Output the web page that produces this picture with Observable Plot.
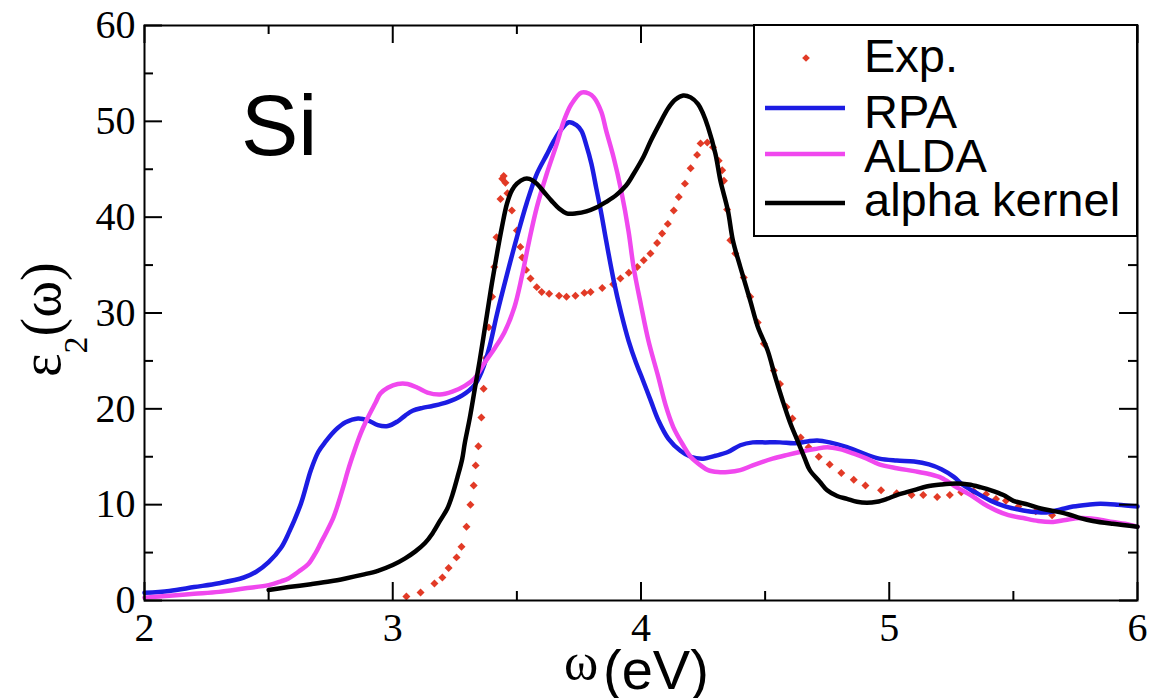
<!DOCTYPE html>
<html><head><meta charset="utf-8">
<script src="https://cdn.jsdelivr.net/npm/d3@7"></script>
<script src="https://cdn.jsdelivr.net/npm/@observablehq/plot@0.6"></script>
<style>html,body{margin:0;padding:0;background:#fff} svg{display:block}</style>
</head><body><div id="chart"></div>
<script>
// ---------- data ----------
const seriesNames = ["Exp.", "RPA", "ALDA", "alpha kernel"];
const seriesColors = ["#e23a26", "#1c1ce3", "#f048ee", "#000000"];

const expX = [3.055,3.112,3.168,3.200,3.225,3.257,3.277,3.297,3.313,3.326,3.334,3.345,3.357,3.366,3.376,3.387,3.400,3.409,3.418,3.434,3.441,3.447,3.454,3.462,3.480,3.500,3.514,3.522,3.537,3.555,3.580,3.600,3.630,3.670,3.700,3.736,3.772,3.797,3.844,3.888,3.917,3.951,3.985,4.011,4.038,4.065,4.085,4.108,4.132,4.152,4.177,4.200,4.226,4.240,4.267,4.290,4.313,4.327,4.334,4.347,4.360,4.380,4.414,4.440,4.470,4.495,4.535,4.560,4.586,4.610,4.643,4.675,4.716,4.760,4.807,4.857,4.904,4.967,5.030,5.090,5.137,5.193,5.244,5.290,5.340,5.390,5.430,5.470,5.520,5.590,5.656];
const expY = [0.42,0.83,1.77,2.4,3.4,4.5,5.6,7.7,10.0,12.0,14.1,16.1,19.1,22.1,25.3,28.5,31.7,34.8,37.9,41.9,44.0,44.3,43.6,42.5,40.7,38.6,36.9,35.8,34.5,33.6,32.7,32.2,32.0,31.8,31.7,31.8,32.1,32.2,32.6,33.0,33.6,34.2,34.8,35.5,36.2,37.3,38.3,39.3,40.7,42.1,43.5,45.1,46.5,47.7,47.8,47.3,45.9,44.9,43.8,40.8,37.6,36.2,33.7,31.7,29.0,26.8,24.0,22.6,20.2,19.0,17.0,16.0,15.0,14.2,13.3,12.6,12.0,11.5,11.2,11.0,11.0,10.8,11.0,11.3,11.4,11.1,10.6,10.4,9.8,9.3,8.9];

const rpaX = [2.00,2.10,2.20,2.30,2.40,2.45,2.50,2.55,2.58,2.63,2.67,2.70,2.73,2.77,2.81,2.86,2.90,2.94,2.98,3.02,3.05,3.08,3.12,3.16,3.22,3.28,3.33,3.36,3.39,3.42,3.46,3.50,3.54,3.58,3.62,3.65,3.68,3.71,3.74,3.76,3.78,3.80,3.82,3.84,3.86,3.89,3.92,3.95,3.98,4.00,4.04,4.07,4.11,4.16,4.20,4.25,4.30,4.35,4.40,4.45,4.50,4.56,4.62,4.67,4.71,4.76,4.83,4.90,4.96,5.03,5.10,5.16,5.21,5.26,5.30,5.36,5.41,5.47,5.54,5.60,5.64,5.69,5.74,5.80,5.85,5.92,6.00];
const rpaY = [0.8,1.0,1.4,1.8,2.4,3.0,4.0,5.5,7.0,10.1,13.6,15.5,16.6,17.8,18.6,19.0,18.8,18.3,18.2,18.7,19.3,19.8,20.1,20.3,20.7,21.4,22.5,24.0,26.5,29.9,34.0,37.9,41.5,44.5,46.5,48.0,49.2,49.9,49.6,49.0,47.5,45.6,43.0,40.4,37.5,33.4,30.0,27.1,24.8,23.5,20.8,18.8,16.9,15.6,15.0,14.8,15.1,15.5,16.2,16.5,16.5,16.5,16.4,16.6,16.7,16.5,16.0,15.3,14.8,14.6,14.5,14.2,13.7,12.9,12.0,11.1,10.4,9.8,9.4,9.2,9.2,9.5,9.8,10.0,10.1,10.0,9.8];

const aldaX = [2.00,2.10,2.20,2.30,2.40,2.50,2.55,2.58,2.62,2.66,2.69,2.71,2.73,2.76,2.78,2.80,2.82,2.84,2.86,2.88,2.90,2.93,2.95,2.98,3.02,3.06,3.10,3.14,3.19,3.24,3.29,3.33,3.37,3.41,3.45,3.49,3.52,3.55,3.58,3.62,3.66,3.69,3.72,3.76,3.79,3.81,3.84,3.86,3.89,3.92,3.95,3.97,4.00,4.03,4.07,4.10,4.13,4.17,4.20,4.24,4.27,4.31,4.35,4.40,4.45,4.53,4.59,4.64,4.70,4.75,4.80,4.86,4.91,4.96,5.03,5.10,5.16,5.21,5.26,5.30,5.34,5.38,5.43,5.48,5.54,5.60,5.66,5.71,5.77,5.83,5.90,5.95,6.00];
const aldaY = [0.3,0.5,0.7,0.9,1.25,1.6,2.0,2.3,3.0,3.8,5.0,6.0,7.0,8.6,10.1,11.8,13.6,15.2,16.7,18.0,19.1,20.6,21.6,22.2,22.6,22.6,22.2,21.7,21.5,21.8,22.4,23.2,24.8,26.3,28.0,30.6,33.8,37.6,41.0,44.5,47.6,50.1,51.8,53.0,52.9,52.5,51.0,49.0,46.2,42.8,38.5,34.8,30.8,27.1,23.3,20.3,18.1,16.2,15.0,14.1,13.6,13.4,13.4,13.6,14.1,14.8,15.2,15.5,15.8,16.0,15.8,15.3,14.8,14.2,13.8,13.5,13.2,12.8,12.0,11.4,10.8,10.1,9.4,8.9,8.6,8.3,8.2,8.4,8.6,8.5,8.2,8.0,7.7];

const alphaX = [2.50,2.58,2.67,2.75,2.81,2.88,2.94,3.00,3.05,3.09,3.13,3.16,3.19,3.22,3.24,3.26,3.28,3.29,3.31,3.33,3.35,3.38,3.40,3.42,3.44,3.46,3.48,3.50,3.53,3.55,3.58,3.61,3.64,3.67,3.70,3.74,3.78,3.82,3.86,3.90,3.94,3.97,4.01,4.04,4.08,4.11,4.14,4.17,4.20,4.23,4.25,4.27,4.30,4.32,4.35,4.37,4.40,4.44,4.47,4.51,4.54,4.57,4.60,4.63,4.66,4.68,4.72,4.75,4.79,4.83,4.87,4.91,4.95,4.99,5.03,5.07,5.11,5.15,5.21,5.27,5.32,5.37,5.41,5.46,5.50,5.56,5.61,5.67,5.72,5.77,5.82,5.90,6.00];
const alphaY = [1.1,1.4,1.7,2.0,2.3,2.7,3.1,3.7,4.4,5.1,6.0,7.0,8.3,9.6,11.0,12.8,14.8,16.4,19.0,22.0,25.0,29.9,33.2,36.2,39.0,41.4,42.8,43.5,44.0,44.0,43.5,42.6,41.7,40.9,40.4,40.4,40.6,41.0,41.6,42.3,43.3,44.5,46.3,48.0,50.0,51.4,52.3,52.7,52.5,51.8,50.8,49.4,46.6,43.8,40.7,37.6,34.8,31.3,28.6,26.1,23.4,20.9,18.6,16.7,14.8,13.6,12.4,11.5,10.9,10.6,10.3,10.2,10.3,10.6,11.0,11.3,11.6,11.9,12.1,12.2,12.1,11.8,11.5,11.0,10.4,10.0,9.6,9.3,9.0,8.6,8.3,8.0,7.7];

const xMajorTicks = [2, 3, 4, 5, 6];
const xMinorTicks = [2.5, 3.5, 4.5, 5.5];
const yMajorTicks = [0, 10, 20, 30, 40, 50, 60];
const yMinorTicks = [5, 15, 25, 35, 45, 55];
const xTitleSymbol = "ω";
const xTitleUnit = "(eV)";
const yTitle = ["ε", "2", "(ω)"];
const panelLabel = "Si";

// ---------- build ----------
const zip = (xs, ys) => xs.map((x, i) => ({x, y: ys[i]}));
const expData = zip(expX, expY), rpaData = zip(rpaX, rpaY), aldaData = zip(aldaX, aldaY), alphaData = zip(alphaX, alphaY);

const W = 1162, H = 698, M = {top: 25, right: 25, bottom: 98, left: 144};
const FW = W - M.left - M.right, FH = H - M.top - M.bottom;
const major = 18, minor = 9, tw = 2, lw = 4.5;
const serif = "'Liberation Serif', 'Times New Roman', serif";
const sans = "'Liberation Sans', Arial, sans-serif";

const chart = Plot.plot({
  width: W, height: H,
  marginTop: M.top, marginRight: M.right, marginBottom: M.bottom, marginLeft: M.left,
  x: {domain: [2, 6]},
  y: {domain: [0, 60]},
  style: {fontFamily: serif, background: "#fff", color: "#000"},
  marks: [
    Plot.dot(expData, {x: "x", y: "y", symbol: "diamond2", r: 3.6, fill: seriesColors[0], stroke: "none"}),
    Plot.line(rpaData, {x: "x", y: "y", stroke: seriesColors[1], strokeWidth: lw, curve: "catmull-rom"}),
    Plot.line(aldaData, {x: "x", y: "y", stroke: seriesColors[2], strokeWidth: lw, curve: "catmull-rom"}),
    Plot.line(alphaData, {x: "x", y: "y", stroke: seriesColors[3], strokeWidth: lw, curve: "catmull-rom"}),
    // inward ticks, bottom & top
    Plot.tickX(xMajorTicks, {x: d => d, insetTop: FH - major, stroke: "#000", strokeWidth: tw}),
    Plot.tickX(xMinorTicks, {x: d => d, insetTop: FH - minor, stroke: "#000", strokeWidth: tw}),
    Plot.tickX(xMajorTicks, {x: d => d, insetBottom: FH - major, stroke: "#000", strokeWidth: tw}),
    Plot.tickX(xMinorTicks, {x: d => d, insetBottom: FH - minor, stroke: "#000", strokeWidth: tw}),
    // inward ticks, left & right
    Plot.tickY(yMajorTicks, {y: d => d, insetRight: FW - major, stroke: "#000", strokeWidth: tw}),
    Plot.tickY(yMinorTicks, {y: d => d, insetRight: FW - minor, stroke: "#000", strokeWidth: tw}),
    Plot.tickY(yMajorTicks, {y: d => d, insetLeft: FW - major, stroke: "#000", strokeWidth: tw}),
    Plot.tickY(yMinorTicks, {y: d => d, insetLeft: FW - minor, stroke: "#000", strokeWidth: tw}),
    Plot.frame({stroke: "#000", strokeWidth: 2}),
    Plot.axisX({ticks: xMajorTicks, tickSize: 0, tickPadding: 12, tickFormat: d => String(d), fontSize: 40, fontFamily: serif, label: null, anchor: "bottom"}),
    Plot.axisY({ticks: yMajorTicks, tickSize: 0, tickPadding: 9, tickFormat: d => String(d), fontSize: 40, fontFamily: serif, label: null, anchor: "left"})
  ]
});
document.getElementById("chart").appendChild(chart);

// ---------- annotations (titles, legend) ----------
const svg = d3.select(chart);

// panel label
svg.append("text").attr("x", 241).attr("y", 155).attr("text-anchor", "start")
  .style("font-family", sans).style("font-size", "86px").attr("fill", "#000").text(panelLabel);

// x title
const xt = svg.append("text").attr("fill", "#000").attr("text-anchor", "start");
xt.append("tspan").attr("x", 564).attr("y", 679).style("font-family", serif).style("font-size", "52px").text(xTitleSymbol);
xt.append("tspan").attr("x", 603).attr("y", 689).style("font-family", sans).style("font-size", "56px").text(xTitleUnit);

// y title (rotated)
const yt = svg.append("text").attr("transform", "translate(60,377) rotate(-90)").attr("fill", "#000")
  .attr("text-anchor", "start").style("font-family", serif).style("font-size", "56px");
yt.append("tspan").text(yTitle[0]);
yt.append("tspan").attr("dy", 27).style("font-size", "34px").text(yTitle[1]);
yt.append("tspan").attr("dy", -27).text(yTitle[2]);

// legend
const lg = svg.append("g");
lg.append("rect").attr("x", 754).attr("y", 25).attr("width", 1137 - 754).attr("height", 211)
  .attr("fill", "#fff").attr("stroke", "#000").attr("stroke-width", 2);
const rowsY = [58, 108, 154, 203];
const textBase = [72, 128, 172, 216];
seriesNames.forEach((name, i) => {
  if (i === 0) {
    lg.append("path").attr("d", d3.symbol(d3.symbolDiamond2, 38)()).attr("transform", `translate(806,${rowsY[0]})`).attr("fill", seriesColors[0]);
  } else {
    lg.append("line").attr("x1", 765).attr("x2", 845).attr("y1", rowsY[i]).attr("y2", rowsY[i])
      .attr("stroke", seriesColors[i]).attr("stroke-width", lw);
  }
  lg.append("text").attr("x", 864).attr("y", textBase[i]).attr("text-anchor", "start")
    .style("font-family", sans).style("font-size", "47px").attr("fill", "#000").text(name);
});
</script></body></html>
